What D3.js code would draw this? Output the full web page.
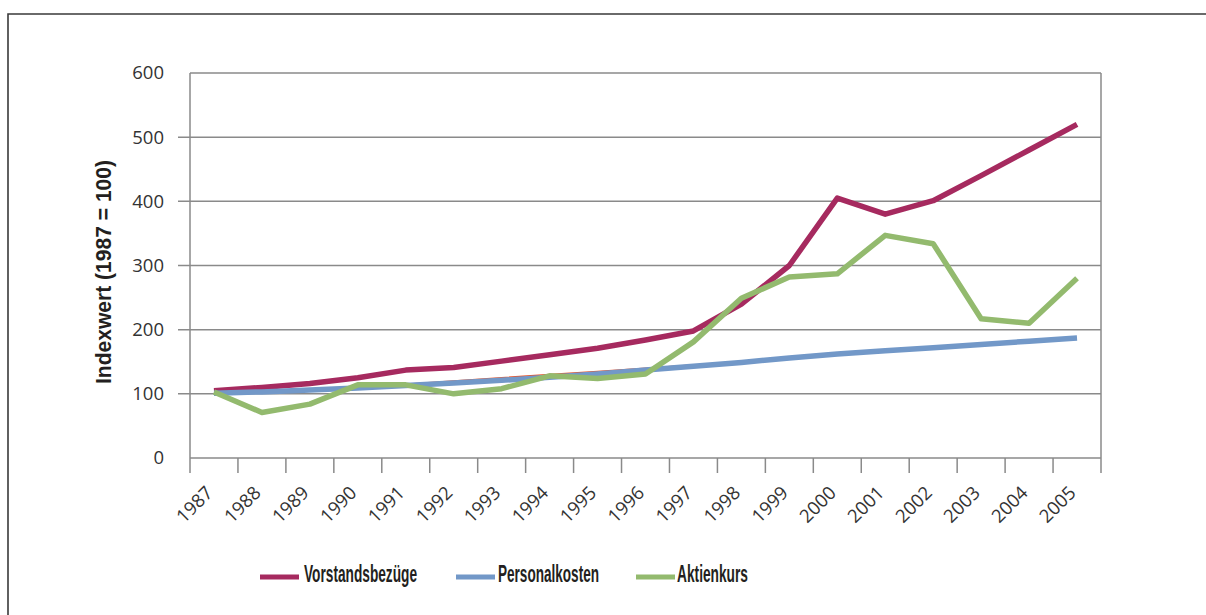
<!DOCTYPE html>
<html><head><meta charset="utf-8">
<script src="https://cdn.jsdelivr.net/npm/d3@7"></script>
<style>
html,body{margin:0;padding:0;background:#fff;}
svg{display:block;}
</style></head>
<body>
<svg id="chart" width="1206" height="615"></svg>
<script>
const years = ['1987','1988','1989','1990','1991','1992','1993','1994','1995','1996','1997','1998','1999','2000','2001','2002','2003','2004','2005'];
const vorstand = [105,110,116,125,137,141,151,161,171,184,198,240,300,405,380,401,440,480,520];
const personal = [101,103,106,109,113,117,121,126,131,137,143,149,156,162,167,172,177,182,187];
const personalAlt = [101,103,106,110,115,120,125,130,135,140,145,149,156,162,167,172,177,182,187];
const aktien = [103,71,84,114,114,100,108,128,124,131,181,249,282,287,347,334,217,210,280];
const yTicks = [0,100,200,300,400,500,600];
const seriesNames = ['Vorstandsbezüge','Personalkosten','Aktienkurs'];

const svg = d3.select('#chart');
const font = "'Open Sans', 'Noto Sans', sans-serif";
const condensed = "'Liberation Sans Narrow', 'Liberation Sans', Arial, sans-serif";

svg.append('path').attr('d','M8,615 L8,14 L1206,14').attr('fill','none').attr('stroke','#3a3a3a').attr('stroke-width',1.6);

const x = d3.scaleBand().domain(years).range([190,1101]).padding(0);
const y = d3.scaleLinear().domain([0,600]).range([458,73]);
const cx = d => x(d) + x.bandwidth()/2;

const grid = svg.append('g');
yTicks.forEach(t => {
  const x0 = (t === 0 || t === 600) ? 190 : 178;
  grid.append('line').attr('x1',x0).attr('x2',1101).attr('y1',y(t)).attr('y2',y(t))
    .attr('stroke','#8a8a8a').attr('stroke-width',1.5);
});
grid.append('line').attr('x1',190).attr('x2',190).attr('y1',y(600)).attr('y2',473).attr('stroke','#8a8a8a').attr('stroke-width',1.5);
grid.append('line').attr('x1',1101).attr('x2',1101).attr('y1',y(600)).attr('y2',473).attr('stroke','#8a8a8a').attr('stroke-width',1.5);
years.forEach((d,i) => {
  if (i === 0) return;
  grid.append('line').attr('x1',x(d)).attr('x2',x(d)).attr('y1',y(0)).attr('y2',473)
    .attr('stroke','#8a8a8a').attr('stroke-width',1.5);
});

svg.append('g').selectAll('text').data(yTicks).join('text')
  .attr('x',164).attr('y',d => y(d)).attr('dy','0.35em')
  .attr('text-anchor','end').attr('font-family',font).attr('font-size',18.5)
  .attr('fill','#333').text(d => d);

svg.append('g').selectAll('text').data(years).join('text')
  .attr('transform',d => `translate(${cx(d)},${494}) rotate(-45)`)
  .attr('text-anchor','end').attr('font-family',font).attr('font-size',18.5)
  .attr('fill','#333').text(d => d);

svg.append('text')
  .attr('transform','translate(111,272) rotate(-90)')
  .attr('text-anchor','middle').attr('font-family',condensed).attr('font-weight','bold')
  .attr('font-size',22).attr('fill','#231f20')
  .attr('textLength',224).attr('lengthAdjust','spacingAndGlyphs')
  .text('Indexwert (1987 = 100)');

const line = d3.line().x((v,i) => cx(years[i])).y(v => y(v));
const colors = ['#a62a5f','#7298c8','#93ba6e'];
svg.append('path').datum(vorstand).attr('d',line).attr('fill','none').attr('stroke',colors[0]).attr('stroke-width',5.5).attr('stroke-linejoin','round');
svg.append('path').datum(personalAlt).attr('d',line).attr('fill','none').attr('stroke','#e8542a').attr('stroke-width',1.5).attr('stroke-linejoin','round');
svg.append('path').datum(personal).attr('d',line).attr('fill','none').attr('stroke',colors[1]).attr('stroke-width',5.5).attr('stroke-linejoin','round');
svg.append('path').datum(aktien).attr('d',line).attr('fill','none').attr('stroke',colors[2]).attr('stroke-width',5.5).attr('stroke-linejoin','round');

const legend = [
  {lx:260, tx:304, w:113},
  {lx:456, tx:498, w:101},
  {lx:636, tx:677, w:71}
];
legend.forEach((l,i) => {
  svg.append('line').attr('x1',l.lx).attr('x2',l.lx+39).attr('y1',577).attr('y2',577)
    .attr('stroke',colors[i]).attr('stroke-width',5);
  svg.append('text').attr('x',l.tx).attr('y',582)
    .attr('font-family',condensed).attr('font-weight','bold').attr('font-size',24)
    .attr('fill','#231f20').attr('textLength',l.w).attr('lengthAdjust','spacingAndGlyphs')
    .text(seriesNames[i]);
});
</script>
</body></html>
